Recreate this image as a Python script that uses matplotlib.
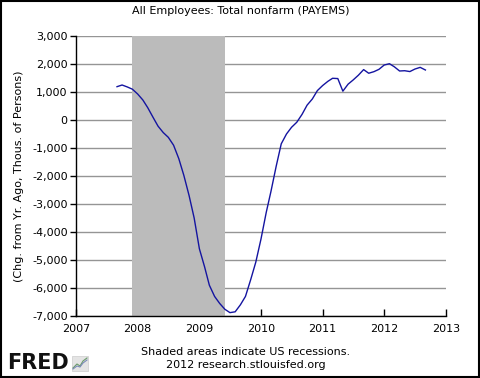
import numpy as np
import pandas as pd
import matplotlib
matplotlib.use("Agg")
import matplotlib.pyplot as plt
import matplotlib.dates as mdates
from matplotlib.patches import Rectangle
from matplotlib.lines import Line2D

# ── data: year-over-year change in total nonfarm payrolls (thousands) ──
start_month = "2007-09"
n_months = 61
yoy_change = [
    1190, 1250, 1180, 1100, 930, 715, 440, 100, -220, -450, -620, -900,
    -1380, -1980, -2700, -3500, -4600, -5250, -5900, -6300, -6550, -6760,
    -6880, -6850, -6600, -6300, -5700, -5080, -4250, -3300, -2550, -1650,
    -850, -500, -260, -80, 200, 530, 750, 1050, 1230, 1380, 1490, 1480,
    1030, 1280, 1430, 1600, 1800, 1670, 1726, 1810, 1964, 2010, 1900,
    1750, 1760, 1730, 1820, 1880, 1786,
]
recession = ("2007-12-01", "2009-06-01")
y_ticks = [3000, 2000, 1000, 0, -1000, -2000, -3000, -4000, -5000, -6000, -7000]
x_years = [2007, 2008, 2009, 2010, 2011, 2012, 2013]

months = pd.date_range(start_month, periods=n_months, freq="MS")

fig = plt.figure(figsize=(4.8, 3.78), dpi=100)
ax = fig.add_axes([76 / 480, 1 - 316 / 378, 370 / 480, 280 / 378])

ax.axvspan(pd.Timestamp(recession[0]), pd.Timestamp(recession[1]),
           color="#bbbbbb", lw=0, zorder=1)
ax.plot(months, yoy_change, color="#1414a0", lw=1.0, zorder=3)

ax.set_xlim(pd.Timestamp("2007-01-01"), pd.Timestamp("2013-01-01"))
ax.set_ylim(-7000, 3000)
ax.set_yticks(y_ticks)
ax.set_yticklabels([f"{v:,}" for v in y_ticks])
ax.set_xticks([pd.Timestamp(f"{y}-01-01") for y in x_years])
ax.xaxis.set_major_formatter(mdates.DateFormatter("%Y"))

ax.set_axisbelow(True)
ax.yaxis.grid(True, color="#959595", lw=1.0)
ax.xaxis.grid(False)
for side in ("top", "right"):
    ax.spines[side].set_visible(False)
for side in ("left", "bottom"):
    ax.spines[side].set_color("black")
    ax.spines[side].set_linewidth(1.0)
ax.tick_params(axis="y", direction="out", length=4, width=1, labelsize=8, pad=2)
ax.tick_params(axis="x", direction="in", length=5, width=1, labelsize=8, pad=6)

ax.set_ylabel("(Chg. from Yr. Ago, Thous. of Persons)", fontsize=8, labelpad=6)
fig.text(241 / 480, 1 - 11 / 378, "All Employees: Total nonfarm (PAYEMS)",
         ha="center", va="center", fontsize=8)

# footer
fig.text(246 / 480, 1 - 352 / 378, "Shaded areas indicate US recessions.",
         ha="center", va="center", fontsize=8)
fig.text(246 / 480, 1 - 365 / 378, "2012 research.stlouisfed.org",
         ha="center", va="center", fontsize=8)
fig.text(7 / 480, 1 - 363 / 378, "FRED", ha="left", va="center",
         fontsize=15, fontweight="heavy", color="#111111")

# little chart icon next to the logo
fig.patches.append(Rectangle((72 / 480, 1 - 371 / 378), 16 / 480, 15 / 378,
                             transform=fig.transFigure, facecolor="#e4e4e4",
                             edgecolor="#cccccc", lw=0.5))
icon_x = [73, 77, 80, 83, 87]
icon_g = [368, 364, 366, 361, 358]
icon_b = [369, 366, 367, 363, 360]
fig.lines.append(Line2D([x / 480 for x in icon_x], [1 - y / 378 for y in icon_g],
                        transform=fig.transFigure, color="#6a9a6a", lw=0.8))
fig.lines.append(Line2D([x / 480 for x in icon_x], [1 - y / 378 for y in icon_b],
                        transform=fig.transFigure, color="#7a8ab8", lw=0.8))

# outer frame
fig.patches.append(Rectangle((0.002, 0.003), 0.996, 0.994, transform=fig.transFigure,
                             fill=False, edgecolor="black", lw=1.5))

fig.savefig("out.png", dpi=100)
